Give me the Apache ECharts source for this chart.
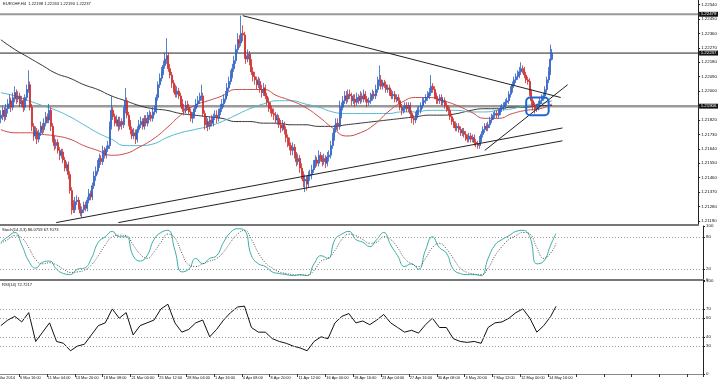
<!DOCTYPE html>
<html><head><meta charset="utf-8">
<script src="https://cdn.jsdelivr.net/npm/echarts@6/dist/echarts.min.js"></script>
<style>html,body{margin:0;padding:0;background:#fff}#c{width:720px;height:382px}</style>
</head><body><div id="c"></div><script>
// ---- candles (H4 bars) ----
const opens=[
1.2183,1.2185,1.2188,1.2184,1.2189,1.2192,1.2194,1.2190,1.2196,1.2199,
1.2195,1.2197,1.2192,1.2194,1.2190,1.2196,1.2201,1.2204,1.2190,1.2178,
1.2172,1.2175,1.2170,1.2174,1.2178,1.2176,1.2180,1.2184,1.2182,1.2188,
1.2178,1.2170,1.2166,1.2168,1.2163,1.2160,1.2162,1.2157,1.2152,1.2154,
1.2148,1.2138,1.2129,1.2126,1.2131,1.2132,1.2128,1.2124,1.2126,1.2129,
1.2127,1.2132,1.2136,1.2134,1.2141,1.2147,1.2150,1.2154,1.2158,1.2156,
1.2163,1.2160,1.2164,1.2166,1.2178,1.2188,1.2184,1.2180,1.2182,1.2178,
1.2181,1.2179,1.2188,1.2194,1.2185,1.2180,1.2176,1.2172,1.2174,1.2170,
1.2176,1.2179,1.2181,1.2178,1.2183,1.2180,1.2184,1.2185,1.2183,1.2187,
1.2188,1.2196,1.2204,1.2208,1.2212,1.2216,1.2220,1.2222,1.2214,1.2210,
1.2205,1.2201,1.2198,1.2200,1.2197,1.2192,1.2189,1.2188,1.2191,1.2190,
1.2187,1.2183,1.2185,1.2189,1.2192,1.2194,1.2196,1.2197,1.2186,1.2179,
1.2181,1.2178,1.2182,1.2180,1.2184,1.2185,1.2183,1.2187,1.2189,1.2192,
1.2195,1.2197,1.2202,1.2206,1.2210,1.2214,1.2219,1.2226,1.2232,1.2230,
1.2236,1.2235,1.2222,1.2220,1.2223,1.2218,1.2212,1.2209,1.2207,1.2204,
1.2206,1.2201,1.2199,1.2202,1.2197,1.2193,1.2190,1.2189,1.2186,1.2185,
1.2182,1.2183,1.2179,1.2177,1.2179,1.2176,1.2171,1.2168,1.2166,1.2163,
1.2165,1.2160,1.2156,1.2158,1.2152,1.2148,1.2144,1.2145,1.2142,1.2147,
1.2148,1.2151,1.2154,1.2157,1.2155,1.2160,1.2158,1.2156,1.2158,1.2155,
1.2159,1.2160,1.2166,1.2171,1.2176,1.2180,1.2178,1.2185,1.2190,1.2194,
1.2197,1.2195,1.2198,1.2197,1.2194,1.2195,1.2193,1.2196,1.2194,1.2197,
1.2195,1.2198,1.2195,1.2193,1.2194,1.2196,1.2198,1.2197,1.2201,1.2206,
1.2207,1.2203,1.2205,1.2204,1.2201,1.2202,1.2199,1.2197,1.2198,1.2195,
1.2196,1.2194,1.2190,1.2188,1.2189,1.2191,1.2189,1.2191,1.2186,1.2183,
1.2182,1.2185,1.2188,1.2188,1.2191,1.2193,1.2194,1.2196,1.2197,1.2199,
1.2203,1.2201,1.2197,1.2195,1.2194,1.2196,1.2193,1.2194,1.2191,1.2189,
1.2188,1.2184,1.2181,1.2179,1.2177,1.2178,1.2176,1.2174,1.2175,1.2173,
1.2171,1.2170,1.2172,1.2170,1.2171,1.2168,1.2167,1.2166,1.2170,1.2173,
1.2176,1.2178,1.2177,1.2179,1.2182,1.2184,1.2185,1.2186,1.2185,1.2187,
1.2189,1.2190,1.2191,1.2193,1.2194,1.2198,1.2201,1.2204,1.2207,1.2209,
1.2210,1.2212,1.2214,1.2213,1.2210,1.2207,1.2206,1.2199,1.2194,1.2191,
1.2189,1.2190,1.2192,1.2194,1.2196,1.2197,1.2201,1.2207,1.2212,1.22198];
const closes=[
1.2185,1.2188,1.2184,1.2189,1.2192,1.2194,1.2190,1.2196,1.2199,1.2195,
1.2197,1.2192,1.2194,1.2190,1.2196,1.2201,1.2204,1.2190,1.2178,1.2172,
1.2175,1.2170,1.2174,1.2178,1.2176,1.2180,1.2184,1.2182,1.2188,1.2178,
1.2170,1.2166,1.2168,1.2163,1.2160,1.2162,1.2157,1.2152,1.2154,1.2148,
1.2138,1.2129,1.2126,1.2131,1.2132,1.2128,1.2124,1.2126,1.2129,1.2127,
1.2132,1.2136,1.2134,1.2141,1.2147,1.2150,1.2154,1.2158,1.2156,1.2163,
1.2160,1.2164,1.2166,1.2178,1.2188,1.2184,1.2180,1.2182,1.2178,1.2181,
1.2179,1.2188,1.2194,1.2185,1.2180,1.2176,1.2172,1.2174,1.2170,1.2176,
1.2179,1.2181,1.2178,1.2183,1.2180,1.2184,1.2185,1.2183,1.2187,1.2188,
1.2196,1.2204,1.2208,1.2212,1.2216,1.2220,1.2222,1.2214,1.2210,1.2205,
1.2201,1.2198,1.2200,1.2197,1.2192,1.2189,1.2188,1.2191,1.2190,1.2187,
1.2183,1.2185,1.2189,1.2192,1.2194,1.2196,1.2197,1.2186,1.2179,1.2181,
1.2178,1.2182,1.2180,1.2184,1.2185,1.2183,1.2187,1.2189,1.2192,1.2195,
1.2197,1.2202,1.2206,1.2210,1.2214,1.2219,1.2226,1.2232,1.2230,1.2236,
1.2235,1.2222,1.2220,1.2223,1.2218,1.2212,1.2209,1.2207,1.2204,1.2206,
1.2201,1.2199,1.2202,1.2197,1.2193,1.2190,1.2189,1.2186,1.2185,1.2182,
1.2183,1.2179,1.2177,1.2179,1.2176,1.2171,1.2168,1.2166,1.2163,1.2165,
1.2160,1.2156,1.2158,1.2152,1.2148,1.2144,1.2145,1.2142,1.2147,1.2148,
1.2151,1.2154,1.2157,1.2155,1.2160,1.2158,1.2156,1.2158,1.2155,1.2159,
1.2160,1.2166,1.2171,1.2176,1.2180,1.2178,1.2185,1.2190,1.2194,1.2197,
1.2195,1.2198,1.2197,1.2194,1.2195,1.2193,1.2196,1.2194,1.2197,1.2195,
1.2198,1.2195,1.2193,1.2194,1.2196,1.2198,1.2197,1.2201,1.2206,1.2207,
1.2203,1.2205,1.2204,1.2201,1.2202,1.2199,1.2197,1.2198,1.2195,1.2196,
1.2194,1.2190,1.2188,1.2189,1.2191,1.2189,1.2191,1.2186,1.2183,1.2182,
1.2185,1.2188,1.2188,1.2191,1.2193,1.2194,1.2196,1.2197,1.2199,1.2203,
1.2201,1.2197,1.2195,1.2194,1.2196,1.2193,1.2194,1.2191,1.2189,1.2188,
1.2184,1.2181,1.2179,1.2177,1.2178,1.2176,1.2174,1.2175,1.2173,1.2171,
1.2170,1.2172,1.2170,1.2171,1.2168,1.2167,1.2166,1.2170,1.2173,1.2176,
1.2178,1.2177,1.2179,1.2182,1.2184,1.2185,1.2186,1.2185,1.2187,1.2189,
1.2190,1.2191,1.2193,1.2194,1.2198,1.2201,1.2204,1.2207,1.2209,1.2210,
1.2212,1.2214,1.2213,1.2210,1.2207,1.2206,1.2199,1.2194,1.2191,1.2189,
1.2190,1.2192,1.2194,1.2196,1.2197,1.2201,1.2207,1.2212,1.2220,1.22237];
const highs=[
1.2188,1.2191,1.2190,1.2192,1.2195,1.2198,1.2196,1.2199,1.2203,1.2201,
1.2200,1.2199,1.2197,1.2196,1.2198,1.2204,1.2213,1.2206,1.2192,1.2180,
1.2178,1.2177,1.2176,1.2181,1.2180,1.2183,1.2187,1.2186,1.2192,1.2190,
1.2180,1.2172,1.2170,1.2170,1.2165,1.2164,1.2164,1.2159,1.2156,1.2156,
1.2150,1.2140,1.2132,1.2134,1.2135,1.2134,1.2130,1.2128,1.2131,1.2131,
1.2134,1.2139,1.2138,1.2143,1.2150,1.2153,1.2157,1.2161,1.2160,1.2166,
1.2165,1.2166,1.2169,1.2181,1.2197,1.2190,1.2186,1.2185,1.2184,1.2184,
1.2183,1.2190,1.2202,1.2196,1.2187,1.2182,1.2178,1.2177,1.2176,1.2178,
1.2182,1.2184,1.2183,1.2185,1.2185,1.2187,1.2188,1.2187,1.2190,1.2191,
1.2198,1.2206,1.2211,1.2215,1.2219,1.2224,1.2233,1.2224,1.2217,1.2212,
1.2207,1.2204,1.2203,1.2202,1.2199,1.2195,1.2192,1.2194,1.2194,1.2192,
1.2189,1.2187,1.2191,1.2195,1.2197,1.2199,1.2204,1.2199,1.2188,1.2184,
1.2183,1.2184,1.2185,1.2186,1.2188,1.2188,1.2189,1.2192,1.2195,1.2198,
1.2200,1.2205,1.2209,1.2213,1.2217,1.2222,1.2229,1.2236,1.2235,1.2247,
1.2241,1.2237,1.2225,1.2226,1.2225,1.2220,1.2215,1.2212,1.2209,1.2209,
1.2208,1.2204,1.2205,1.2204,1.2199,1.2196,1.2193,1.2191,1.2189,1.2187,
1.2186,1.2185,1.2182,1.2182,1.2181,1.2178,1.2173,1.2171,1.2168,1.2168,
1.2167,1.2162,1.2161,1.2160,1.2155,1.2150,1.2148,1.2147,1.2150,1.2151,
1.2154,1.2157,1.2160,1.2159,1.2163,1.2162,1.2160,1.2161,1.2160,1.2162,
1.2163,1.2169,1.2174,1.2179,1.2183,1.2183,1.2194,1.2193,1.2197,1.2200,
1.2200,1.2201,1.2201,1.2199,1.2198,1.2198,1.2199,1.2198,1.2200,1.2199,
1.2201,1.2200,1.2197,1.2196,1.2199,1.2201,1.2200,1.2204,1.2209,1.2216,
1.2210,1.2207,1.2207,1.2206,1.2204,1.2204,1.2201,1.2200,1.2200,1.2198,
1.2198,1.2196,1.2192,1.2191,1.2193,1.2193,1.2193,1.2193,1.2188,1.2185,
1.2187,1.2190,1.2191,1.2193,1.2196,1.2196,1.2198,1.2200,1.2202,1.2210,
1.2205,1.2203,1.2199,1.2197,1.2198,1.2198,1.2196,1.2196,1.2193,1.2191,
1.2190,1.2186,1.2183,1.2181,1.2180,1.2180,1.2178,1.2177,1.2177,1.2175,
1.2173,1.2174,1.2174,1.2173,1.2173,1.2170,1.2169,1.2172,1.2175,1.2178,
1.2180,1.2180,1.2181,1.2184,1.2186,1.2187,1.2188,1.2188,1.2189,1.2191,
1.2192,1.2193,1.2195,1.2196,1.2200,1.2203,1.2206,1.2209,1.2211,1.2213,
1.2215,1.2218,1.2216,1.2215,1.2212,1.2209,1.2208,1.2201,1.2196,1.2193,
1.2192,1.2194,1.2196,1.2198,1.2199,1.2203,1.2209,1.2215,1.2229,1.22263];
const lows=[
1.2180,1.2182,1.2181,1.2182,1.2186,1.2189,1.2187,1.2188,1.2193,1.2192,
1.2193,1.2190,1.2190,1.2187,1.2188,1.2194,1.2199,1.2188,1.2175,1.2169,
1.2170,1.2167,1.2168,1.2172,1.2173,1.2174,1.2178,1.2180,1.2180,1.2175,
1.2168,1.2163,1.2164,1.2161,1.2157,1.2158,1.2155,1.2150,1.2150,1.2145,
1.2136,1.2123,1.2124,1.2124,1.2129,1.2126,1.2122,1.2121,1.2124,1.2125,
1.2125,1.2130,1.2132,1.2132,1.2139,1.2144,1.2148,1.2152,1.2154,1.2154,
1.2158,1.2158,1.2162,1.2164,1.2176,1.2182,1.2178,1.2178,1.2175,1.2176,
1.2176,1.2177,1.2186,1.2183,1.2178,1.2173,1.2170,1.2170,1.2167,1.2168,
1.2174,1.2177,1.2176,1.2176,1.2178,1.2178,1.2182,1.2181,1.2181,1.2185,
1.2186,1.2194,1.2202,1.2206,1.2210,1.2214,1.2217,1.2212,1.2208,1.2202,
1.2199,1.2196,1.2196,1.2195,1.2190,1.2187,1.2185,1.2186,1.2188,1.2185,
1.2181,1.2180,1.2183,1.2187,1.2190,1.2192,1.2194,1.2184,1.2176,1.2177,
1.2175,1.2176,1.2178,1.2178,1.2182,1.2180,1.2181,1.2185,1.2187,1.2190,
1.2193,1.2195,1.2200,1.2204,1.2208,1.2212,1.2217,1.2224,1.2227,1.2228,
1.2231,1.2220,1.2217,1.2218,1.2216,1.2210,1.2206,1.2204,1.2201,1.2202,
1.2199,1.2196,1.2197,1.2195,1.2191,1.2187,1.2186,1.2184,1.2182,1.2180,
1.2179,1.2177,1.2174,1.2175,1.2173,1.2168,1.2165,1.2163,1.2160,1.2160,
1.2158,1.2153,1.2154,1.2149,1.2145,1.2140,1.2137,1.2138,1.2140,1.2144,
1.2145,1.2149,1.2152,1.2153,1.2153,1.2156,1.2153,1.2154,1.2152,1.2153,
1.2156,1.2158,1.2164,1.2169,1.2174,1.2175,1.2176,1.2183,1.2188,1.2192,
1.2192,1.2193,1.2195,1.2191,1.2192,1.2190,1.2191,1.2192,1.2192,1.2193,
1.2193,1.2193,1.2190,1.2191,1.2192,1.2194,1.2195,1.2195,1.2199,1.2203,
1.2201,1.2201,1.2202,1.2199,1.2199,1.2197,1.2195,1.2195,1.2193,1.2193,
1.2192,1.2188,1.2185,1.2186,1.2187,1.2187,1.2187,1.2184,1.2180,1.2179,
1.2180,1.2183,1.2185,1.2186,1.2189,1.2191,1.2192,1.2194,1.2195,1.2197,
1.2199,1.2195,1.2192,1.2192,1.2192,1.2191,1.2191,1.2189,1.2187,1.2185,
1.2182,1.2179,1.2177,1.2175,1.2175,1.2174,1.2172,1.2172,1.2171,1.2169,
1.2168,1.2168,1.2168,1.2168,1.2166,1.2165,1.2164,1.2164,1.2168,1.2171,
1.2174,1.2175,1.2175,1.2177,1.2180,1.2182,1.2183,1.2183,1.2183,1.2185,
1.2187,1.2188,1.2189,1.2191,1.2192,1.2196,1.2199,1.2202,1.2205,1.2207,
1.2208,1.2210,1.2211,1.2208,1.2205,1.2204,1.2197,1.2191,1.2188,1.2186,
1.2187,1.2188,1.2190,1.2192,1.2194,1.2195,1.2199,1.2205,1.2210,1.2219];
// moving averages, one reading every 8 bars (last one at the last bar)
const maRed=[1.2176,1.2174,1.2174,1.2173,1.2172,1.2170,1.2166,1.2163,1.2160,1.2161,1.2165,1.2170,1.2177,1.2185,1.2191,1.2194,1.2197,1.2201,1.2201,1.2201,1.2197,1.2194,1.2190,1.2184,1.2177,1.2172,1.2174,1.2179,1.2187,1.2193,1.2196,1.2196,1.2194,1.2191,1.2187,1.2183,1.2183,1.2186,1.2188,1.2189,1.2192];
const maCyan=[1.2199,1.2197,1.2194,1.2191,1.2188,1.2184,1.2179,1.2174,1.2170,1.2166,1.2166,1.2167,1.2171,1.2174,1.2176,1.2178,1.2181,1.2185,1.2189,1.2192,1.2194,1.2194,1.2192,1.2190,1.2187,1.2186,1.2186,1.2186,1.2186,1.2187,1.2187,1.2188,1.2188,1.2188,1.2187,1.2187,1.2188,1.2189,1.2191,1.2192,1.2194];
const maBlack=[1.2232,1.2226,1.2221,1.2216,1.2211,1.2208,1.2204,1.2201,1.2197,1.2194,1.2191,1.2189,1.2188,1.2186,1.2185,1.2184,1.2183,1.2181,1.2181,1.2180,1.2180,1.2179,1.2179,1.2178,1.2178,1.2179,1.2180,1.2181,1.2182,1.2183,1.2184,1.2185,1.2185,1.2186,1.2188,1.2189,1.2189,1.2190,1.2190,1.2191,1.2191];
// oscillators, one reading every 4 bars (last one at the last bar)
const stochK=[70,80,88,65,35,22,33,35,20,12,10,20,22,40,70,80,90,80,80,45,35,45,75,88,92,55,15,20,40,30,40,45,70,88,95,92,45,30,25,15,12,10,8,10,8,30,45,40,75,85,90,75,70,62,75,88,65,45,25,30,20,55,80,60,50,20,12,10,10,8,40,65,75,82,90,92,80,30,35,65,86.0759];
const stochD=[68,75,82,78,60,38,30,32,28,20,14,15,18,28,45,65,80,83,82,65,48,40,52,70,85,78,50,28,25,30,35,40,52,70,85,92,75,50,32,22,15,12,10,9,9,18,35,40,55,75,85,82,75,68,70,80,75,60,40,30,25,40,60,68,58,40,22,14,11,10,22,45,62,75,82,88,85,60,40,50,67.7073];
const rsi=[52,58,62,56,66,35,45,55,35,33,25,30,32,42,52,55,70,60,66,42,52,55,58,70,75,55,45,48,55,58,40,48,58,66,72,73,50,45,45,38,35,33,30,28,25,35,40,38,55,62,65,55,57,53,58,64,55,50,45,47,44,53,60,50,50,38,35,34,35,33,50,55,56,60,66,70,60,45,52,62,72.7217];
// axis ticks / labels
const priceTicks=[1.2119,1.2128,1.2137,1.2146,1.2155,1.2164,1.2173,1.2182,1.2191,1.2200,1.2209,1.2218,1.2227,1.2236,1.2245,1.2254];
const stochTicks=[0,20,80,100];
const rsiTicks=[0,30,40,60,70,100];
const stochLevels=[80,20];
const rsiLevels=[70,60,40,30];
const timeLabels=['4 Mar 2014','6 Mar 16:00','11 Mar 04:00','13 Mar 20:00','18 Mar 08:00','21 Mar 00:00','25 Mar 12:00','28 Mar 04:00','1 Apr 16:00','4 Apr 08:00','8 Apr 20:00','11 Apr 12:00','16 Apr 00:00','18 Apr 16:00','23 Apr 04:00','27 Apr 16:00','30 Apr 08:00','4 May 20:00','7 May 12:00','12 May 00:00','14 May 16:00'];
const priceLevels=[1.22479,1.22237,1.21906];
const levelColors=['#9a9a9a','#222','#9a9a9a'];
const levelWidths=[2,1,2.5];
// drawn trend lines: [barIndex, price] pairs
const trendLines=[
 [[140,1.2247],[324,1.2196]],
 [[32,1.2118],[325,1.2177]],
 [[68,1.2118],[325,1.2169]],
 [[280,1.2163],[328,1.2204]]
];
const markBox=[304,1.2196,317,1.2185];
const titleText='EURCHF,H4  1.22198 1.22263 1.22190 1.22237';
const stochText='Stoch(14,3,3) 86.0759 67.7073';
const rsiText='RSI(14) 72.7217';

const SLOTS=404, MA_STEP=8, OSC_STEP=4, LAST=closes.length-1;
const cats=Array.from({length:SLOTS},(_,i)=>String(i));
const FONT='Liberation Sans', XFS=3.9, YFS=4.4, TFS=4.1;
const candleData=opens.map((o,i)=>[o,closes[i],lows[i],highs[i]]);
const sampled=(arr,step)=>arr.map((v,k)=>[Math.min(k*step,LAST),v]);
const isLabel=i=>i>=11&&(i-11)%16===0;

const chart=echarts.init(document.getElementById('c'),null,{renderer:'canvas'});
const xBase={type:'category',data:cats,boundaryGap:true,axisTick:{show:false},axisLabel:{show:false},splitLine:{show:false}};
const yBase={position:'right',axisLine:{show:true,lineStyle:{color:'#222',width:1}},splitLine:{show:false},
  axisTick:{show:true,length:2,lineStyle:{color:'#222'}},axisLabel:{fontFamily:FONT,fontSize:YFS,color:'#111',margin:3}};
const levelLine=(vals)=>({silent:true,symbol:'none',label:{show:false},lineStyle:{color:'#999',type:[1,2],width:1},data:vals.map(v=>({yAxis:v}))});

chart.setOption({
  animation:false,
  backgroundColor:'#fff',
  grid:[
    {left:0,right:17,top:0,height:225},
    {left:0,right:17,top:226,height:54},
    {left:0,right:17,top:281,height:93}
  ],
  xAxis:[
    Object.assign({},xBase,{gridIndex:0,axisLine:{show:true,lineStyle:{color:'#777',width:2}}}),
    Object.assign({},xBase,{gridIndex:1,axisLine:{show:true,lineStyle:{color:'#777',width:2}}}),
    Object.assign({},xBase,{gridIndex:2,axisLine:{show:true,lineStyle:{color:'#888',width:1}},
      axisTick:{show:true,length:3,interval:(i)=>isLabel(i),lineStyle:{color:'#333'}},
      axisLabel:{show:true,interval:(i)=>isLabel(i),align:'left',margin:2,fontFamily:FONT,fontSize:XFS,color:'#111',
        formatter:(v,i)=>isLabel(i)?timeLabels[(i-11)/16+1]:''}})
  ],
  yAxis:[
    Object.assign({},yBase,{gridIndex:0,type:'value',min:1.21165,max:1.22568,
      axisTick:Object.assign({},yBase.axisTick,{customValues:priceTicks}),
      axisLabel:Object.assign({},yBase.axisLabel,{customValues:priceTicks,formatter:v=>v.toFixed(5)})}),
    Object.assign({},yBase,{gridIndex:1,type:'value',min:0,max:100,
      axisTick:Object.assign({},yBase.axisTick,{customValues:stochTicks}),
      axisLabel:Object.assign({},yBase.axisLabel,{customValues:stochTicks})}),
    Object.assign({},yBase,{gridIndex:2,type:'value',min:0,max:100,
      axisTick:Object.assign({},yBase.axisTick,{customValues:rsiTicks}),
      axisLabel:Object.assign({},yBase.axisLabel,{customValues:rsiTicks})})
  ],
  graphic:[
    {type:'text',left:3,top:2,style:{text:titleText,font:TFS+'px '+FONT,fill:'#111'}},
    {type:'text',left:2,top:228,style:{text:stochText,font:TFS+'px '+FONT,fill:'#111'}},
    {type:'text',left:2,top:283,style:{text:rsiText,font:TFS+'px '+FONT,fill:'#111'}},
    {type:'text',right:705,top:376,style:{text:timeLabels[0],font:XFS+'px '+FONT,fill:'#111'}}
  ],
  series:[
    // horizontal price levels with highlighted price labels
    {type:'custom',xAxisIndex:0,yAxisIndex:0,silent:true,z:1,clip:false,
      data:priceLevels.map((v,k)=>[0,v,k]),
      renderItem:(params,api)=>{
        const v=api.value(1), k=api.value(2), cs=params.coordSys, y=api.coord([0,v])[1];
        return {type:'group',children:[
          {type:'line',shape:{x1:cs.x,y1:y,x2:cs.x+cs.width,y2:y},style:{stroke:levelColors[k],lineWidth:levelWidths[k]}},
          {type:'text',x:cs.x+cs.width+1,y:y,z2:20,style:{text:v.toFixed(5),fill:'#fff',backgroundColor:'#111',padding:[0.6,1.5,0.3,1.5],
            font:YFS+'px '+FONT,verticalAlign:'middle',align:'left'}}
        ]};
      }},
    {type:'line',xAxisIndex:0,yAxisIndex:0,data:sampled(maBlack,MA_STEP),smooth:true,showSymbol:false,lineStyle:{color:'#333',width:1},silent:true,z:2},
    {type:'line',xAxisIndex:0,yAxisIndex:0,data:sampled(maCyan,MA_STEP),smooth:true,showSymbol:false,lineStyle:{color:'#4fb8cc',width:1},silent:true,z:2},
    {type:'line',xAxisIndex:0,yAxisIndex:0,data:sampled(maRed,MA_STEP),smooth:true,showSymbol:false,lineStyle:{color:'#c84848',width:1},silent:true,z:2},
    {type:'candlestick',xAxisIndex:0,yAxisIndex:0,data:candleData,barWidth:1.5,z:3,
      itemStyle:{color:'#2d5fc4',color0:'#cc2a2a',borderColor:'#2d5fc4',borderColor0:'#cc2a2a',borderWidth:0.8}},
    ...trendLines.map(tl=>({type:'line',xAxisIndex:0,yAxisIndex:0,data:tl,showSymbol:false,lineStyle:{color:'#222',width:1},silent:true,z:4})),
    {type:'custom',xAxisIndex:0,yAxisIndex:0,silent:true,z:5,data:[markBox],
      renderItem:(params,api)=>{const a=api.coord([api.value(0),api.value(1)]),b=api.coord([api.value(2),api.value(3)]);
        return {type:'rect',shape:{x:a[0],y:a[1],width:b[0]-a[0],height:b[1]-a[1],r:4},style:{fill:null,stroke:'#1f66d6',lineWidth:2}};}},
    {type:'line',xAxisIndex:1,yAxisIndex:1,data:sampled(stochK,OSC_STEP),smooth:true,showSymbol:false,lineStyle:{color:'#3aaea6',width:1},silent:true,markLine:levelLine(stochLevels)},
    {type:'line',xAxisIndex:1,yAxisIndex:1,data:sampled(stochD,OSC_STEP),smooth:true,showSymbol:false,lineStyle:{color:'#555',width:1,type:[1,1.5]},silent:true},
    {type:'line',xAxisIndex:2,yAxisIndex:2,data:sampled(rsi,OSC_STEP),showSymbol:false,lineStyle:{color:'#111',width:1},silent:true,markLine:levelLine(rsiLevels)}
  ]
});
</script></body></html>
